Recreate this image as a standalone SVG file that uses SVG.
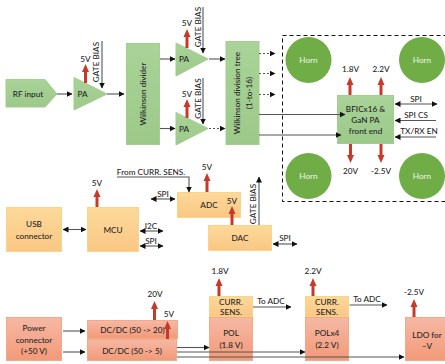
<svg xmlns="http://www.w3.org/2000/svg" width="445" height="364" viewBox="0 0 445 364">
<style>
text{font-family:Lato,"Liberation Sans",sans-serif;font-size:8.200px;font-weight:500;fill:#262626;text-anchor:middle}
.w{fill:#e8f2e0}
.g{fill:url(#gg);stroke:#a3cd92;stroke-width:1}
.o{fill:url(#og);stroke:#fbd38b;stroke-width:1}
.s{fill:url(#sg);stroke:#f4a989;stroke-width:1}
.h{fill:#70ad47}
.la{stroke:#555;stroke-width:1.100;fill:none;marker-end:url(#a)}
.ld{stroke:#555;stroke-width:1.100;fill:none;marker-end:url(#a);stroke-dasharray:2 2}
.lb{stroke:#555;stroke-width:1.100;fill:none;marker-end:url(#a);marker-start:url(#as)}
.r{stroke:#c63a2a;stroke-width:3;fill:none;marker-end:url(#r)}
</style>
<defs>
<marker id="a" viewBox="0 0 6 6" refX="5.500" refY="3" markerWidth="6" markerHeight="6" markerUnits="userSpaceOnUse" orient="auto"><path d="M0 0L6 3L0 6Z" fill="#111"/></marker>
<marker id="as" viewBox="0 0 6 6" refX="0.500" refY="3" markerWidth="6" markerHeight="6" markerUnits="userSpaceOnUse" orient="auto"><path d="M6 0L0 3L6 6Z" fill="#111"/></marker>
<marker id="r" viewBox="0 0 8 7" refX="1" refY="3.500" markerWidth="8" markerHeight="8" markerUnits="userSpaceOnUse" orient="auto"><path d="M0 0L8 3.500L0 7Z" fill="#c63a2a"/></marker>
<linearGradient id="gg" x1="0" y1="0" x2="0" y2="1"><stop offset="0" stop-color="#a9d398"/><stop offset="1" stop-color="#9cc98a"/></linearGradient>
<linearGradient id="og" x1="0" y1="0" x2="0" y2="1"><stop offset="0" stop-color="#fdd99a"/><stop offset="1" stop-color="#f9c784"/></linearGradient>
<linearGradient id="sg" x1="0" y1="0" x2="0" y2="1"><stop offset="0" stop-color="#f6b8a4"/><stop offset="1" stop-color="#f29a78"/></linearGradient>
</defs>

<g id="rf-input"><polygon class="g" points="6,79.500 45,79.500 57,94 45,107 6,107"/><text x="28" y="97">RF input</text></g>
<g id="pa1"><polygon class="g" points="74,77.500 74,110 107,94"/><text x="82.500" y="97">PA</text></g>
<g id="wilkinson-divider"><rect class="g" x="126.500" y="43.500" width="33" height="101"/><text transform="translate(146,94) rotate(-90)">Wilkinson divider</text></g>
<g id="pa2"><polygon class="g" points="176,43 176,76 208,59"/><text x="184" y="62">PA</text></g>
<g id="pa3"><polygon class="g" points="176,112.500 176,145 208,128.500"/><text x="184" y="132">PA</text></g>
<g id="wilkinson-tree"><rect class="g" x="226" y="41.500" width="33" height="103"/><text transform="translate(240,93) rotate(-90)">Wilkinson division tree</text><text transform="translate(252,93) rotate(-90)">(1-to-16)</text></g>

<rect x="282.500" y="35.500" width="170" height="166" fill="none" stroke="#111" stroke-width="1" stroke-dasharray="4 3"/>
<g id="horn1"><circle class="h" cx="308.500" cy="60" r="23"/><text class="w" x="308.500" y="63">Horn</text></g>
<g id="horn2"><circle class="h" cx="422" cy="60" r="23"/><text class="w" x="422" y="63">Horn</text></g>
<g id="horn3"><circle class="h" cx="308.500" cy="176" r="23"/><text class="w" x="308.500" y="179">Horn</text></g>
<g id="horn4"><circle class="h" cx="422" cy="176" r="23"/><text class="w" x="422" y="179">Horn</text></g>
<g id="bfic"><rect class="g" x="337.500" y="95.500" width="56" height="48"/><text x="365.500" y="112">BFICx16 &amp;</text><text x="365.500" y="123">GaN PA</text><text x="365.500" y="134">front end</text></g>

<g id="usb"><rect class="o" x="6.500" y="207.500" width="55" height="44"/><text x="34" y="227">USB</text><text x="34" y="239">connector</text></g>
<g id="mcu"><rect class="o" x="87.500" y="207.500" width="51" height="44"/><text x="113" y="233">MCU</text></g>
<g id="adc"><rect class="o" x="177.500" y="192.500" width="63" height="25"/><text x="209" y="208">ADC</text></g>
<g id="dac"><rect class="o" x="208.500" y="225.500" width="63" height="25"/><text x="240" y="241">DAC</text></g>

<g id="power"><rect class="s" x="6.500" y="317.500" width="55" height="43"/><text x="34" y="331">Power</text><text x="34" y="343">connector</text><text x="34" y="354">(+50 V)</text></g>
<g id="dcdc20"><rect class="s" x="87.500" y="320.500" width="90" height="18"/><text x="132.500" y="333">DC/DC (50 -&gt; 20)</text></g>
<g id="dcdc5"><rect class="s" x="87.500" y="339.500" width="89" height="21"/><text x="132" y="354">DC/DC (50 -&gt; 5)</text></g>
<g id="pol"><rect class="s" x="209.500" y="317.500" width="43" height="43"/><text x="231" y="336">POL</text><text x="231" y="348">(1.8 V)</text></g>
<g id="sens1"><rect class="o" x="209.500" y="296.500" width="43" height="20"/><text x="231" y="305">CURR.</text><text x="231" y="315">SENS.</text></g>
<g id="polx4"><rect class="s" x="305.500" y="317.500" width="43" height="43"/><text x="327" y="336">POLx4</text><text x="327" y="348">(2.2 V)</text></g>
<g id="sens2"><rect class="o" x="305.500" y="296.500" width="43" height="20"/><text x="327" y="305">CURR.</text><text x="327" y="315">SENS.</text></g>
<g id="ldo"><rect class="s" x="405.500" y="317.500" width="44" height="43"/><text x="427" y="338">LDO for</text><text x="427" y="349">–V</text></g>

<g id="connectors">
<path class="la" d="M57 94H72"/>
<path class="la" d="M107 94H124"/>
<path class="la" d="M160 59H175"/>
<path class="la" d="M160 128.500H175"/>
<path class="la" d="M209 59H225"/>
<path class="ld" d="M209 128.500H225"/>
<path class="ld" d="M259 53.500H275"/>
<path class="ld" d="M259 73.500H275"/>
<path class="ld" d="M259 94.500H275"/>
<path class="la" d="M259 114.500H345"/>
<path class="la" d="M259 135H341"/>
<path class="la" d="M102 41V88"/>
<path class="la" d="M203 7V53"/>
<path class="la" d="M203 78V124"/>
<path class="lb" d="M395 104H437"/>
<path class="la" d="M436 120.500H395"/>
<path class="la" d="M436 137H395"/>
<path class="lb" d="M63 229.500H86"/>
<path class="lb" d="M140 231H163"/>
<path class="lb" d="M140 246H163"/>
<path class="lb" d="M151 199H175"/>
<path class="la" d="M117 177H189V192"/>
<path class="la" d="M259 225V177"/>
<path class="lb" d="M273 244H297"/>
<path class="la" d="M63 331H85"/>
<path class="la" d="M63 352H85"/>
<path class="la" d="M177 347.500H209"/>
<path class="la" d="M177 352H305"/>
<path class="la" d="M177 357H404"/>
<path class="la" d="M253 307H291"/>
<path class="la" d="M349.500 305H387"/>
<path class="r" d="M85.500 83V71"/>
<path class="r" d="M187 48V36"/>
<path class="r" d="M187 118V106"/>
<path class="r" d="M350 95V84"/>
<path class="r" d="M381 95V84"/>
<path class="r" d="M350.500 144V156"/>
<path class="r" d="M381 144V156"/>
<path class="r" d="M97 207V196"/>
<path class="r" d="M207 192V180"/>
<path class="r" d="M232 225V213"/>
<path class="r" d="M154.500 320V308"/>
<path class="r" d="M167.500 339V328"/>
<path class="r" d="M219 296V285"/>
<path class="r" d="M313 296V285"/>
<path class="r" d="M414 317V306"/>
</g>

<g id="labels">
<text x="85.500" y="62">5V</text>
<text transform="translate(99,62) rotate(-90)">GATE BIAS</text>
<text x="187" y="26">5V</text>
<text transform="translate(200.500,27) rotate(-90)">GATE BIAS</text>
<text x="187" y="97">5V</text>
<text transform="translate(200.500,98.500) rotate(-90)">GATE BIAS</text>
<text x="350.500" y="72">1.8V</text><text x="381" y="72">2.2V</text>
<text x="350.500" y="174">20V</text><text x="381" y="174">-2.5V</text>
<text x="416" y="102">SPI</text><text x="416" y="118">SPI CS</text><text x="419" y="134">TX/RX EN</text>
<text x="97" y="186">5V</text><text x="207" y="170">5V</text><text x="232" y="204">5V</text>
<text x="151" y="175">From CURR. SENS.</text>
<text x="163" y="197">SPI</text>
<text x="151" y="229">I2C</text><text x="151" y="244">SPI</text>
<text transform="translate(256,204) rotate(-90)">GATE BIAS</text>
<text x="285" y="241">SPI</text>
<text x="155" y="297">20V</text><text x="169" y="317">5V</text>
<text x="220" y="274">1.8V</text><text x="313" y="274">2.2V</text><text x="414" y="295">-2.5V</text>
<text x="271" y="304">To ADC</text><text x="367" y="302">To ADC</text>
</g>
</svg>
